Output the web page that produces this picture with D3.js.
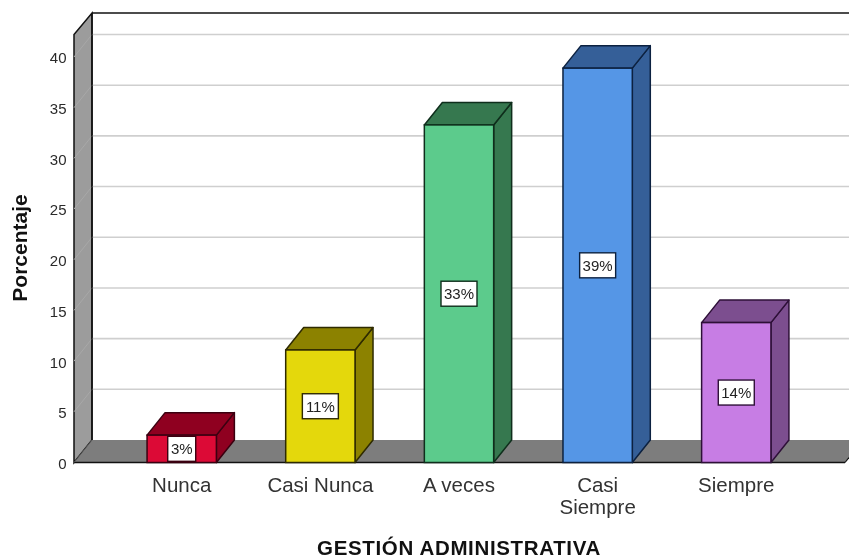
<!DOCTYPE html>
<html><head><meta charset="utf-8">
<script src="https://cdn.jsdelivr.net/npm/d3@7"></script>
<style>html,body{margin:0;padding:0;background:#fff}svg{display:block;filter:blur(0.35px)}text{font-family:"Liberation Sans",Arial,sans-serif}</style>
</head><body><div id="chart"></div>
<script>
const categories = ["Nunca", "Casi Nunca", "A veces", "Casi Siempre", "Siempre"];
const values = [2.7, 11.1, 33.3, 38.9, 13.8];
const labels = ["3%", "11%", "33%", "39%", "14%"];
const fronts = ["#dc0a36", "#e4d80c", "#5ccb8c", "#5596e6", "#c77de4"];
const sides = ["#8f0020", "#8c8200", "#36784f", "#355f98", "#7c4e8f"];
const edges = ["#3a0010", "#2e2a00", "#0f2e1c", "#0c2140", "#2e1038"];
const yTicks = [0, 5, 10, 15, 20, 25, 30, 35, 40];

const W = 849, H = 559, dx = 18, dy = 22.5;
const svg = d3.select("#chart").append("svg").attr("width", W).attr("height", H);
const y = d3.scaleLinear().domain([0, 40]).range([462.5, 57]);
const x = d3.scaleBand().domain(categories).range([112.4, 805.6]).paddingInner(0.5).paddingOuter(0.25);
const wallL = 74, floorR = 845, wallTop = 13;
const P = pts => pts.map(p => p.join(",")).join(" ");

// side wall
svg.append("polygon").attr("points", P([[wallL, y(0)], [wallL, wallTop + 21.5], [wallL + dx, wallTop], [wallL + dx, y(0) - dy]]))
  .attr("fill", "#9c9c9c").attr("stroke", "#111").attr("stroke-width", 1.5);
// faint wall ticks
svg.append("g").selectAll("line").data(yTicks.slice(1)).join("line")
  .attr("x1", wallL).attr("x2", wallL + dx).attr("y1", d => y(d)).attr("y2", d => y(d) - dy)
  .attr("stroke", "#a8a8a8").attr("stroke-width", 1);
// gridlines
svg.append("g").selectAll("line").data(yTicks.slice(1)).join("line")
  .attr("x1", wallL + dx).attr("x2", W).attr("y1", d => y(d) - dy).attr("y2", d => y(d) - dy)
  .attr("stroke", "#cfcfcf").attr("stroke-width", 1.6);
// top and wall edge
svg.append("line").attr("x1", wallL + dx).attr("x2", W).attr("y1", wallTop).attr("y2", wallTop).attr("stroke", "#111").attr("stroke-width", 1.5);
// floor
svg.append("polygon").attr("points", P([[wallL, y(0)], [wallL + dx, y(0) - dy], [W, y(0) - dy], [W, y(0) - 5], [floorR, y(0)]]))
  .attr("fill", "#7d7d7d");
svg.append("line").attr("x1", wallL + dx).attr("x2", wallL + dx).attr("y1", wallTop).attr("y2", y(0) - dy).attr("stroke", "#111").attr("stroke-width", 1.5);
svg.append("line").attr("x1", wallL).attr("x2", floorR).attr("y1", y(0)).attr("y2", y(0)).attr("stroke", "#111").attr("stroke-width", 1.5);
svg.append("line").attr("x1", wallL).attr("x2", wallL + dx).attr("y1", y(0)).attr("y2", y(0) - dy).attr("stroke", "#555").attr("stroke-width", 1);
svg.append("line").attr("x1", floorR).attr("x2", W).attr("y1", y(0)).attr("y2", y(0) - 5).attr("stroke", "#111").attr("stroke-width", 1.2);

// y axis labels
svg.append("g").selectAll("text").data(yTicks).join("text")
  .attr("x", 66.5).attr("y", d => y(d) + 1).attr("dy", "0.36em").attr("text-anchor", "end")
  .attr("font-size", 15).attr("fill", "#2a2a2a").text(d => d);

// bars
const bars = svg.append("g").selectAll("g").data(categories).join("g");
const bw = x.bandwidth();
bars.append("polygon").attr("points", (d, i) => P([[x(d) + bw, y(0)], [x(d) + bw, y(values[i])], [x(d) + bw + dx, y(values[i]) - dy], [x(d) + bw + dx, y(0) - dy]]))
  .attr("fill", (d, i) => sides[i]).attr("stroke", (d, i) => edges[i]).attr("stroke-width", 1.5).attr("stroke-linejoin", "round");
bars.append("polygon").attr("points", (d, i) => P([[x(d), y(values[i])], [x(d) + dx, y(values[i]) - dy], [x(d) + bw + dx, y(values[i]) - dy], [x(d) + bw, y(values[i])]]))
  .attr("fill", (d, i) => sides[i]).attr("stroke", (d, i) => edges[i]).attr("stroke-width", 1.5).attr("stroke-linejoin", "round");
bars.append("rect").attr("x", d => x(d)).attr("width", bw).attr("y", (d, i) => y(values[i])).attr("height", (d, i) => y(0) - y(values[i]))
  .attr("fill", (d, i) => fronts[i]).attr("stroke", (d, i) => edges[i]).attr("stroke-width", 1.5);

// value labels
const lw = i => labels[i].length === 2 ? 28 : 36;
bars.append("rect")
  .attr("x", (d, i) => x(d) + bw / 2 - lw(i) / 2)
  .attr("y", (d, i) => (y(values[i]) + y(0)) / 2 - 12.5)
  .attr("width", (d, i) => lw(i)).attr("height", 25)
  .attr("fill", "#fff").attr("stroke", (d, i) => edges[i]).attr("stroke-width", 1.4);
bars.append("text")
  .attr("x", d => x(d) + bw / 2)
  .attr("y", (d, i) => (y(values[i]) + y(0)) / 2)
  .attr("dy", "0.36em").attr("text-anchor", "middle").attr("font-size", 15).attr("fill", "#222")
  .text((d, i) => labels[i]);

// category labels
const catText = svg.append("g").selectAll("text").data(categories).join("text")
  .attr("text-anchor", "middle").attr("font-size", 20.5).attr("fill", "#333");
catText.each(function (d) {
  const lines = d === "Casi Siempre" ? d.split(" ") : [d];
  d3.select(this).selectAll("tspan").data(lines).join("tspan")
    .attr("x", x(d) + bw / 2).attr("y", (l, k) => 491.5 + k * 22).text(l => l);
});

// titles
svg.append("text").attr("x", 459).attr("y", 554.5).attr("text-anchor", "middle")
  .attr("font-size", 20.5).attr("font-weight", "bold").attr("letter-spacing", 0.65).attr("fill", "#111").text("GESTIÓN ADMINISTRATIVA");
svg.append("text").attr("transform", "translate(27,248) rotate(-90)").attr("text-anchor", "middle")
  .attr("font-size", 21).attr("font-weight", "bold").attr("fill", "#111").text("Porcentaje");
</script></body></html>
